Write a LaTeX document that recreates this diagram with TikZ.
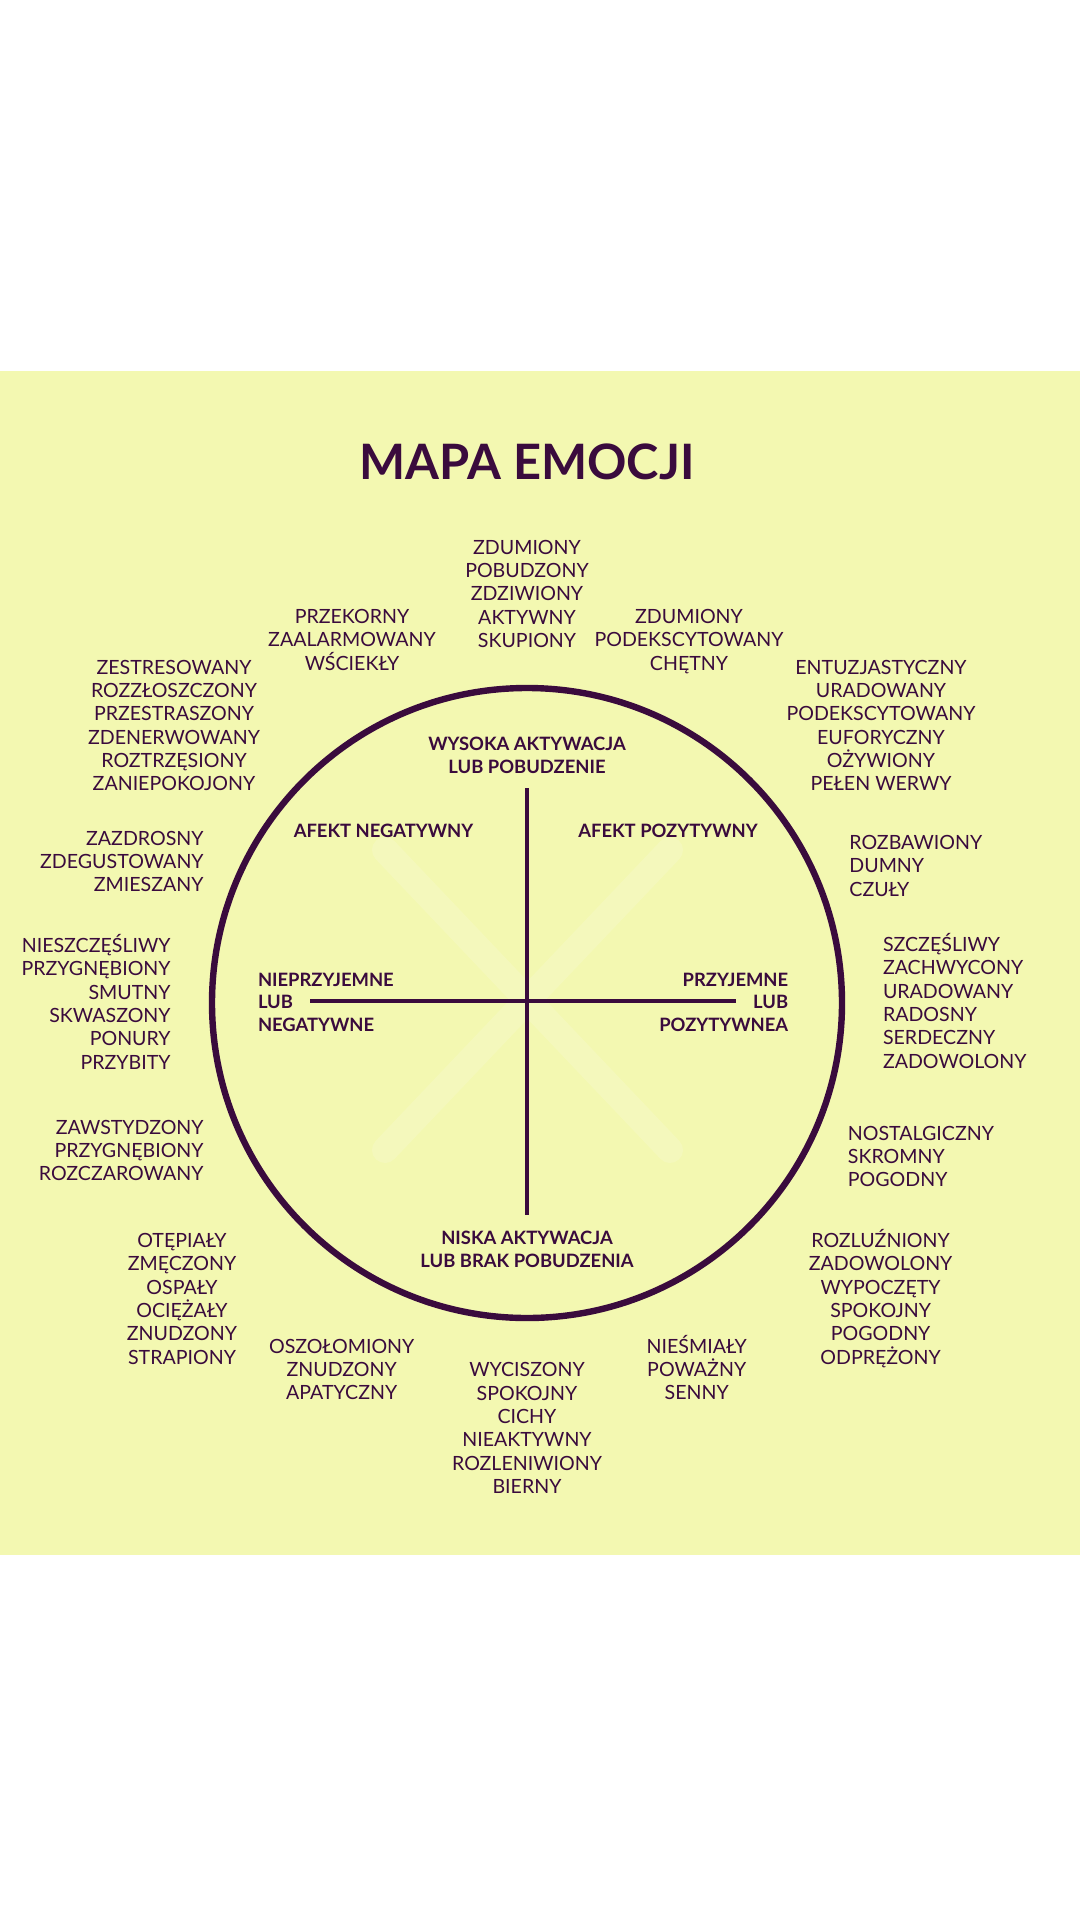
\documentclass[tikz,border=0pt]{standalone}
\usepackage{fontspec}
\setmainfont{Lato}
\definecolor{paper}{HTML}{F3F8B1}
\definecolor{ink}{HTML}{3A0B3D}

\begin{document}
\begin{tikzpicture}[x=0.5pt, y=-0.5pt,
  words/.style={text=ink, align=center, inner sep=0pt, font=\fontsize{9.8}{11.65}\selectfont},
  axislabel/.style={text=ink, align=center, inner sep=0pt, font=\fontsize{9.2}{11.4}\selectfont\bfseries},
  axis/.style={draw=ink, line width=1.8pt}]
  % Page and band
  \fill[white] (0,0) rectangle (1080,1920);
  \fill[paper] (0,371) rectangle (1080,1555);
  \useasboundingbox (0,0) rectangle (1080,1920);

  % Title
  \node (title) at (527,462) [text=ink, inner sep=0pt, font=\fontsize{24.4}{28}\selectfont\bfseries] {MAPA EMOCJI};

  % Faint cross behind the axes
  \draw[white, opacity=0.14, line width=13pt, line cap=round] (385,850) -- (670,1150) (670,850) -- (385,1150);

  % Wheel and axes
  \node (wheel) at (527,1003) [circle, draw=ink, line width=3.2pt, minimum size=315pt, inner sep=0pt] {};
  \coordinate (up) at (527,788);
  \coordinate (down) at (527,1215);
  \coordinate (left) at (310,1001);
  \coordinate (right) at (736,1001);
  \draw[axis] (up) -- (down);
  \draw[axis] (left) -- (right);

  % Axis labels
  \node (highAct) at (527,736.7) [axislabel, anchor=north] {WYSOKA AKTYWACJA\\LUB POBUDZENIE};
  \node (negAff) at (383.5,824) [axislabel, anchor=north] {AFEKT NEGATYWNY};
  \node (posAff) at (668,824) [axislabel, anchor=north] {AFEKT POZYTYWNY};
  \node (unpleasant) at (257.6,972.4) [axislabel, align=left, anchor=north west] {NIEPRZYJEMNE\\LUB\\NEGATYWNE};
  \node (pleasant) at (788.6,972.4) [axislabel, align=right, anchor=north east] {PRZYJEMNE\\LUB\\POZYTYWNEA};
  \node (lowAct) at (527,1230.7) [axislabel, anchor=north] {NISKA AKTYWACJA\\LUB BRAK POBUDZENIA};

  % Emotions around the wheel
  \node (topMid) at (527,539.5) [words, anchor=north] {ZDUMIONY\\POBUDZONY\\ZDZIWIONY\\AKTYWNY\\SKUPIONY};
  \node (topLeft) at (352,609) [words, anchor=north] {PRZEKORNY\\ZAALARMOWANY\\WŚCIEKŁY};
  \node (topRight) at (689,609) [words, anchor=north] {ZDUMIONY\\PODEKSCYTOWANY\\CHĘTNY};
  \node (tense) at (174,659.5) [words, anchor=north] {ZESTRESOWANY\\ROZZŁOSZCZONY\\PRZESTRASZONY\\ZDENERWOWANY\\ROZTRZĘSIONY\\ZANIEPOKOJONY};
  \node (excited) at (881,659.5) [words, anchor=north] {ENTUZJASTYCZNY\\URADOWANY\\PODEKSCYTOWANY\\EUFORYCZNY\\OŻYWIONY\\PEŁEN WERWY};
  \node (jealous) at (204,830.5) [words, align=right, anchor=north east] {ZAZDROSNY\\ZDEGUSTOWANY\\ZMIESZANY};
  \node (amused) at (849,835) [words, align=left, anchor=north west] {ROZBAWIONY\\DUMNY\\CZUŁY};
  \node (sad) at (171,934) [words, align=right, anchor=north east] {NIESZCZĘŚLIWY\\PRZYGNĘBIONY\\SMUTNY\\SKWASZONY\\PONURY\\PRZYBITY};
  \node (happy) at (882.6,933) [words, align=left, anchor=north west] {SZCZĘŚLIWY\\ZACHWYCONY\\URADOWANY\\RADOSNY\\SERDECZNY\\ZADOWOLONY};
  \node (ashamed) at (204,1119.7) [words, align=right, anchor=north east] {ZAWSTYDZONY\\PRZYGNĘBIONY\\ROZCZAROWANY};
  \node (serene) at (847.5,1125.7) [words, align=left, anchor=north west] {NOSTALGICZNY\\SKROMNY\\POGODNY};
  \node (tired) at (182,1233) [words, anchor=north] {OTĘPIAŁY\\ZMĘCZONY\\OSPAŁY\\OCIĘŻAŁY\\ZNUDZONY\\STRAPIONY};
  \node (dazed) at (341.7,1338.7) [words, anchor=north] {OSZOŁOMIONY\\ZNUDZONY\\APATYCZNY};
  \node (calm) at (527,1362.3) [words, anchor=north] {WYCISZONY\\SPOKOJNY\\CICHY\\NIEAKTYWNY\\ROZLENIWIONY\\BIERNY};
  \node (shy) at (696.7,1334.7) [words, anchor=north] {NIEŚMIAŁY\\POWAŻNY\\SENNY};
  \node (relaxed) at (880.6,1229) [words, anchor=north] {ROZLUŹNIONY\\ZADOWOLONY\\WYPOCZĘTY\\SPOKOJNY\\POGODNY\\ODPRĘŻONY};
\end{tikzpicture}
\end{document}
